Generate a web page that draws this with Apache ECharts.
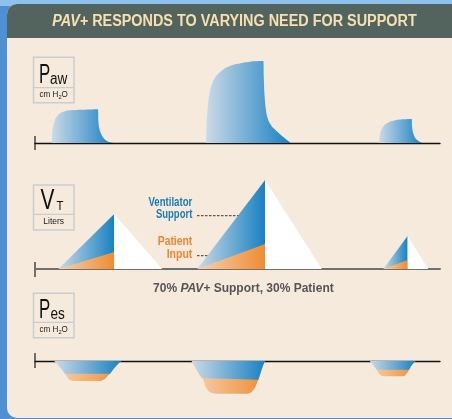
<!DOCTYPE html>
<html>
<head>
<meta charset="utf-8">
<script src="https://cdn.jsdelivr.net/npm/echarts@6/dist/echarts.min.js"></script>
<style>
html, body { margin: 0; padding: 0; }
#main { width: 452px; height: 419px; }
</style>
</head>
<body>
<div id="main"></div>
<script>
// time in seconds, pressure in cm H2O, volume in liters
var pawBreath1 = [[0.557,0],[0.577,3.67],[0.61,5.9],[0.667,7.77],[0.757,9.23],[0.89,10.23],[1.057,10.77],[1.277,11],[1.557,11.1],[1.89,11.17],[2.1,11.23],[2.11,7.57],[2.133,5.33],[2.177,3.67],[2.243,2.23],[2.333,1.1],[2.467,0.33],[2.61,0]];
var pawBreath2 = [[5.7,0],[5.723,7.23],[5.757,11.67],[5.8,15.57],[5.857,18.33],[5.943,20.77],[6.057,22.57],[6.223,24.1],[6.39,25.23],[6.61,26.1],[6.943,26.77],[7.277,27.23],[7.61,27.33],[7.623,22.77],[7.643,17.23],[7.677,12.77],[7.723,9.43],[7.79,7.23],[7.89,5.57],[8.057,3.9],[8.223,2.43],[8.39,1.1],[8.523,0]];
var pawBreath3 = [[11.467,0],[11.49,2.23],[11.523,3.9],[11.59,5.33],[11.7,6.43],[11.833,7.1],[12.057,7.67],[12.277,7.9],[12.557,8],[12.567,5.57],[12.59,3.9],[12.633,2.43],[12.7,1.33],[12.79,0.57],[12.91,0]];

var vtStart   = [0.78, 5.41, 11.61];
var vtPeak    = [2.64, 7.67, 12.42];
var vtEnd     = [4.24, 9.56, 13.11];
var vtTotal   = [0.55, 0.89, 0.33];
var vtPatient = [0.17, 0.25, 0.09];

// esophageal pressure: whole dip, and the ventilator (upper) part of it
var pesDip1 = [[0.65,0],[0.777,-1.43],[0.89,-2.77],[1.0,-4.23],[1.057,-5.1],[1.11,-5.9],[1.19,-6.43],[1.277,-6.67],[2.167,-6.67],[2.277,-6.33],[2.367,-5.67],[2.443,-4.77],[2.5,-4.23],[2.61,-2.77],[2.723,-1.43],[2.867,0]];
var pesVent1 = [[0.65,0],[0.777,-1.43],[0.89,-2.77],[1.0,-4.23],[2.5,-4.23],[2.61,-2.77],[2.723,-1.43],[2.867,0]];
var pesDip2 = [[5.223,0],[5.333,-2],[5.443,-3.9],[5.557,-5.67],[5.61,-6.23],[5.643,-7.23],[5.69,-8.67],[5.757,-9.77],[5.833,-10.43],[5.943,-10.77],[6.057,-10.9],[7.057,-10.9],[7.167,-10.67],[7.243,-10.1],[7.31,-9.23],[7.367,-8.1],[7.41,-7],[7.443,-6.23],[7.5,-4.57],[7.557,-2.77],[7.61,-1.23],[7.667,0]];
var pesVent2 = [[5.223,0],[5.333,-2],[5.443,-3.9],[5.557,-5.67],[5.61,-6.23],[7.443,-6.23],[7.5,-4.57],[7.557,-2.77],[7.61,-1.23],[7.667,0]];
var pesDip3 = [[11.167,0],[11.277,-1.43],[11.39,-2.9],[11.443,-3.9],[11.5,-4.57],[11.577,-5],[11.667,-5.1],[12.223,-5.1],[12.31,-5],[12.367,-4.43],[12.423,-3.67],[12.467,-2.9],[12.533,-1.77],[12.61,-0.77],[12.69,0]];
var pesVent3 = [[11.167,0],[11.277,-1.43],[11.39,-2.9],[12.467,-2.9],[12.533,-1.77],[12.61,-0.77],[12.69,0]];

var docChart = document.getElementById("main");
var myChart = echarts.init(docChart);

var BG = '#F5EADB';
var BLUE = ['#CBDAE7', '#1881C2'];
var ORANGE = ['#F6D3B0', '#EE8C34'];

function grad(c) {
    return new echarts.graphic.LinearGradient(0, 0, 1, 0, [
        { offset: 0, color: c[0] },
        { offset: 1, color: c[1] }
    ]);
}

function area(idx, data, colors, smooth) {
    return {
        type: 'line',
        xAxisIndex: idx,
        yAxisIndex: idx,
        data: data,
        symbol: 'none',
        smooth: smooth,
        lineStyle: { width: 0 },
        areaStyle: { color: typeof colors === 'string' ? colors : grad(colors), opacity: 1 },
        silent: true
    };
}

var series = [];
// Paw
series.push(area(0, pawBreath1, BLUE, 0.12));
series.push(area(0, pawBreath2, BLUE, 0.12));
series.push(area(0, pawBreath3, BLUE, 0.12));
// VT
for (var i = 0; i < vtPeak.length; i++) {
    series.push(area(1, [[vtStart[i], 0], [vtPeak[i], vtTotal[i]]], BLUE, false));
    series.push(area(1, [[vtStart[i], 0], [vtPeak[i], vtPatient[i]]], ORANGE, false));
    series.push(area(1, [[vtPeak[i], vtTotal[i]], [vtEnd[i], 0]], '#FFFFFF', false));
}
// Pes
[[pesDip1, pesVent1], [pesDip2, pesVent2], [pesDip3, pesVent3]].forEach(function (p) {
    series.push(area(2, p[0], ORANGE, 0.3));
    series.push(area(2, p[1], BLUE, false));
});

function xAx(idx, color, w) {
    return {
        type: 'value', gridIndex: idx, min: 0, max: 13.5,
        axisLine: { show: true, onZero: true, lineStyle: { color: color, width: w } },
        axisTick: { show: false }, axisLabel: { show: false }, splitLine: { show: false }
    };
}
function yAx(idx, min, max) {
    return { type: 'value', gridIndex: idx, min: min, max: max, show: false };
}

function labelBox(y, h, div) {
    return [
        { type: 'rect', shape: { x: 33.5, y: y, width: 40.5, height: h },
          style: { fill: BG, stroke: '#C9CDD0', lineWidth: 1.5 } },
        { type: 'line', shape: { x1: 33.5, y1: div, x2: 74, y2: div },
          style: { stroke: '#C9CDD0', lineWidth: 1.2 } }
    ];
}
function txt(x, y, text, font, color, align, sx, rich) {
    return {
        type: 'text', x: x, y: y, scaleX: sx || 1,
        style: {
            text: text, font: font, fill: color,
            align: align, verticalAlign: 'middle',
            textAlign: align, textVerticalAlign: 'middle',
            rich: rich
        }
    };
}
var subRich = { s: { fontSize: 6, fontFamily: 'Liberation Sans', fill: '#222', color: '#222', padding: [5, 0, 0, 0] } };
var FF = '"Liberation Sans", Arial, sans-serif';

var graphic = [
    // panel
    { type: 'rect', shape: { x: 0, y: 0, width: 452, height: 6 }, style: { fill: '#8CC2EB' } },
    { type: 'rect', shape: { x: 7, y: 4, width: 470, height: 414, r: [10, 0, 0, 10] }, style: { fill: BG } },
    { type: 'rect', shape: { x: 7, y: 4, width: 470, height: 34, r: [10, 0, 0, 0] }, style: { fill: '#53645F' } },
    txt(234.5, 21.5, '{i|PAV+} RESPONDS TO VARYING NEED FOR SUPPORT', 'bold 16px ' + FF, '#F6E0B0', 'center', 0.9,
        { i: { fontStyle: 'italic', fontWeight: 'bold', fontSize: 16, fontFamily: 'Liberation Sans', fill: '#F6E0B0', color: '#F6E0B0' } }),
    // start ticks
    { type: 'line', shape: { x1: 35, y1: 136, x2: 35, y2: 150 }, style: { stroke: '#444', lineWidth: 1.5 } },
    { type: 'line', shape: { x1: 35, y1: 262, x2: 35, y2: 277 }, style: { stroke: '#444', lineWidth: 1.5 } },
    { type: 'line', shape: { x1: 35, y1: 353, x2: 35, y2: 368 }, style: { stroke: '#444', lineWidth: 1.5 } },
    // annotations
    txt(192.3, 203, 'Ventilator', 'bold 12.5px ' + FF, '#1A7BB8', 'right', 0.77),
    txt(192.3, 215, 'Support', 'bold 12.5px ' + FF, '#1A7BB8', 'right', 0.76),
    txt(192.3, 242, 'Patient', 'bold 12.5px ' + FF, '#EE8534', 'right', 0.83),
    txt(192.3, 254.5, 'Input', 'bold 12.5px ' + FF, '#EE8534', 'right', 0.84),
    { type: 'line', shape: { x1: 197, y1: 215.7, x2: 252, y2: 215.7 }, style: { stroke: '#333', lineWidth: 1, lineDash: [2.5, 1.5] } },
    { type: 'line', shape: { x1: 197, y1: 255.7, x2: 252, y2: 255.7 }, style: { stroke: '#333', lineWidth: 1, lineDash: [2.5, 1.5] } },
    txt(243.4, 289, '70% {i|PAV+} Support, 30% Patient', 'bold 12px ' + FF, '#555', 'center', 1,
        { i: { fontStyle: 'italic', fontWeight: 'bold', fontSize: 12, fontFamily: 'Liberation Sans', fill: '#555', color: '#555' } })
];
graphic = graphic
    .concat(labelBox(57.3, 45.4, 87.7))
    .concat(labelBox(185, 45, 214.3))
    .concat(labelBox(293.3, 44.4, 322.3))
    .concat([
        txt(39, 75, 'P', '28px ' + FF, '#111', 'left', 0.6),
        txt(50, 79.8, 'aw', '16px ' + FF, '#111', 'left', 0.85),
        txt(53.7, 95, 'cm H{s|2}O', '8.5px ' + FF, '#222', 'center', 0.95, subRich),
        txt(40.5, 201, 'V', '29px ' + FF, '#111', 'left', 0.72),
        txt(56.5, 206.6, 'T', '13px ' + FF, '#111', 'left', 0.87),
        txt(53.7, 222, 'Liters', '9px ' + FF, '#222', 'center', 0.94),
        txt(39, 310, 'P', '28px ' + FF, '#111', 'left', 0.6),
        txt(50.5, 315, 'es', '16px ' + FF, '#111', 'left', 0.85),
        txt(53.7, 330, 'cm H{s|2}O', '8.5px ' + FF, '#222', 'center', 0.95, subRich)
    ]);

var option = {
    animation: false,
    backgroundColor: '#4F8FD4',
    grid: [
        { left: 35, right: 12, top: 53, height: 90 },
        { left: 35, right: 12, top: 169, height: 100 },
        { left: 35, right: 12, top: 355, height: 42 }
    ],
    xAxis: [xAx(0, '#111', 1.3), xAx(1, '#707070', 2), xAx(2, '#111', 1.3)],
    yAxis: [yAx(0, 0, 30), yAx(1, 0, 1), yAx(2, -12, 2)],
    graphic: graphic,
    series: series
};
myChart.setOption(option);
</script>
</body>
</html>
